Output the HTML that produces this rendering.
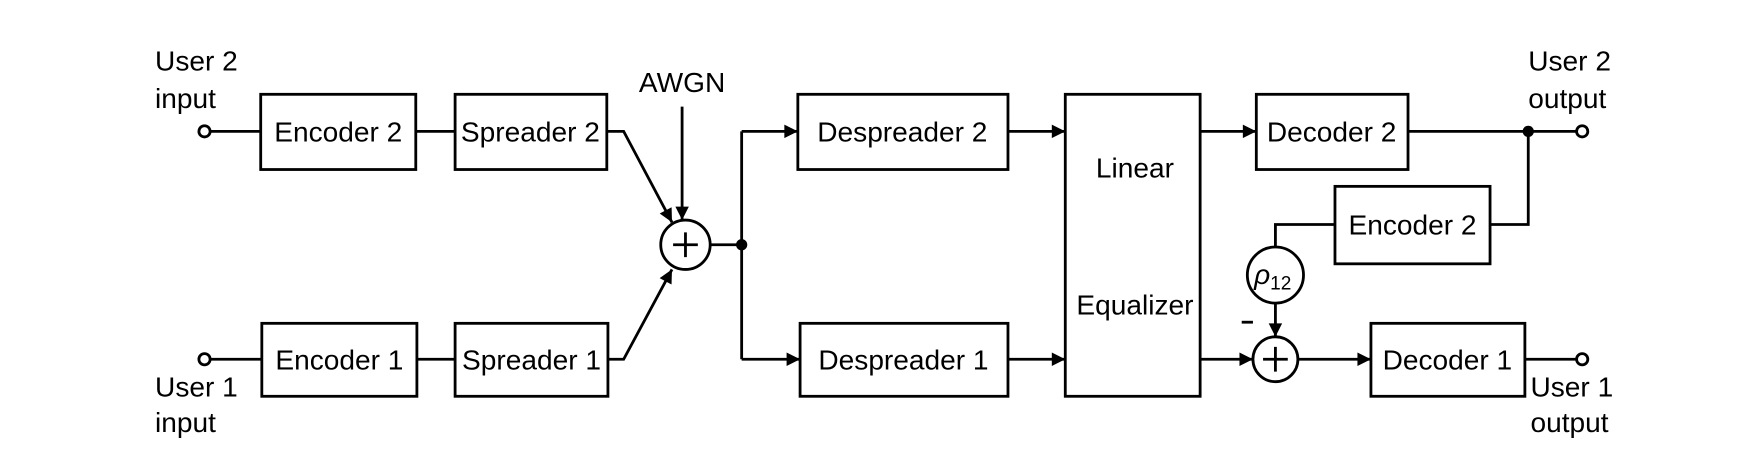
<!DOCTYPE html>
<html><head><meta charset="utf-8"><style>
html,body{margin:0;padding:0;background:#fff;width:1753px;height:476px;overflow:hidden}
svg{display:block}
text{font-family:"Liberation Sans Narrow","Liberation Sans",sans-serif;font-size:25px;fill:#000}
</style></head><body>
<svg width="1753" height="476" viewBox="0 0 1560 424" preserveAspectRatio="none" xmlns="http://www.w3.org/2000/svg">
<defs><marker id="a" viewBox="0 0 10 10" refX="10" refY="5" markerWidth="7" markerHeight="6" markerUnits="userSpaceOnUse" orient="auto"><path d="M0,0L10,5L0,10z" fill="#000"/></marker>
<marker id="b" viewBox="0 0 10 10" refX="10" refY="5" markerWidth="20" markerHeight="12" markerUnits="userSpaceOnUse" orient="auto"><path d="M0,0L10,5L0,10z" fill="#000"/></marker></defs>
<g fill="none" stroke="#000" stroke-width="2.5">
<rect x="232" y="84" width="138" height="67"/>
<rect x="405" y="84" width="135" height="67"/>
<rect x="233" y="288" width="138" height="65"/>
<rect x="405" y="288" width="136" height="65"/>
<rect x="710" y="84" width="187" height="67"/>
<rect x="712" y="288" width="185" height="65"/>
<rect x="948" y="84" width="120" height="269"/>
<rect x="1118" y="84" width="135" height="67"/>
<rect x="1188" y="166" width="138" height="69"/>
<rect x="1220" y="288" width="137" height="65"/>
<circle cx="610" cy="218" r="22"/>
<circle cx="1135" cy="245" r="25"/>
<circle cx="1135" cy="320" r="20"/>
<circle cx="182" cy="117" r="5"/><circle cx="182" cy="320" r="5"/>
<circle cx="1408" cy="117" r="5"/><circle cx="1408" cy="320" r="5"/>
<path d="M187 117H232M370 117H405M187 320H233M371 320H405"/>
<path d="M540 117H555L598 198" marker-end="url(#b)"/>
<path d="M541 320H555L598 240" marker-end="url(#b)"/>
<path d="M607 95V196" marker-end="url(#b)"/>
<path d="M632 218H660M660 117V320"/>
<path d="M660 117H710" marker-end="url(#b)"/>
<path d="M660 320H712" marker-end="url(#b)"/>
<path d="M897 117H948" marker-end="url(#b)"/>
<path d="M897 320H948" marker-end="url(#b)"/>
<path d="M1068 117H1118" marker-end="url(#b)"/>
<path d="M1068 320H1115" marker-end="url(#b)"/>
<path d="M1155 320H1220" marker-end="url(#b)"/>
<path d="M1135 270V300" marker-end="url(#b)"/>
<path d="M1253 117H1403M1360 117V200H1326M1188 200H1135V220M1357 320H1403"/>
<path d="M599 218H621M610 207V229M1124 320H1146M1135 309V331"/>
<path d="M1105 287H1115"/>
</g>
<circle cx="660" cy="218" r="5"/><circle cx="1360" cy="117" r="5"/>
<text x="138" y="63">User 2</text><text x="138" y="96">input</text>
<text x="138" y="353">User 1</text><text x="138" y="385">input</text>
<text x="1360" y="63">User 2</text><text x="1360" y="96">output</text>
<text x="1362" y="353">User 1</text><text x="1362" y="385">output</text>
<text x="607" y="82" text-anchor="middle" font-size="22">AWGN</text>
<g text-anchor="middle">
<text x="301" y="126">Encoder 2</text>
<text x="472" y="126">Spreader 2</text>
<text x="302" y="329">Encoder 1</text>
<text x="473" y="329">Spreader 1</text>
<text x="803" y="126">Despreader 2</text>
<text x="804" y="329">Despreader 1</text>
<text x="1010" y="158">Linear</text>
<text x="1010" y="280">Equalizer</text>
<text x="1185" y="126">Decoder 2</text>
<text x="1257" y="209">Encoder 2</text>
<text x="1288" y="329">Decoder 1</text>
</g>
<text x="1116" y="253" font-style="italic" font-size="24">ρ<tspan font-size="17" font-style="normal" dy="5">12</tspan></text>
</svg>
</body></html>
